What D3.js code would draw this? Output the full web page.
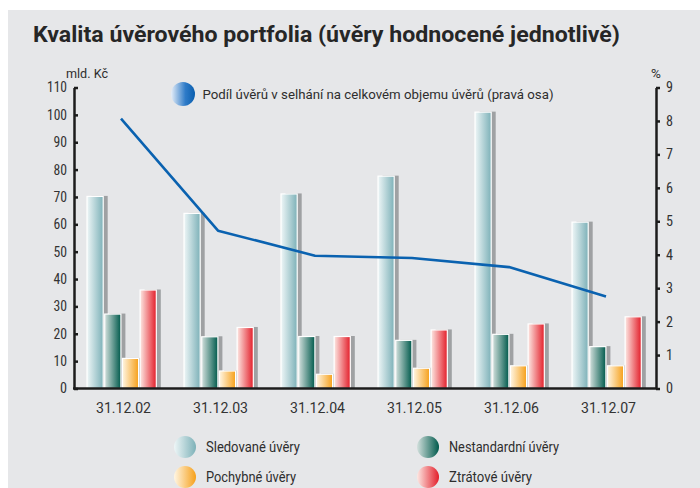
<!DOCTYPE html>
<html><head><meta charset="utf-8">
<script src="https://cdn.jsdelivr.net/npm/d3@7"></script>
<style>body{margin:0;background:#fff;}text{font-family:Roboto,"Open Sans",sans-serif;fill:#2e2e2e;}</style>
</head><body><svg id="c" width="700" height="488"></svg>
<script>
const categories = ["31.12.02","31.12.03","31.12.04","31.12.05","31.12.06","31.12.07"];
const seriesNames = ["Sledované úvěry","Nestandardní úvěry","Pochybné úvěry","Ztrátové úvěry"];
const sledovane   = [70.2, 64.0, 71.1, 77.6, 101.0, 60.8];
const nestandardni= [27.2, 18.9, 19.0, 17.6, 19.8, 15.3];
const pochybne    = [11.0, 6.4, 5.2, 7.4, 8.3, 8.3];
const ztratove    = [36.0, 22.3, 19.0, 21.4, 23.6, 26.2];
const podil       = [8.07, 4.72, 3.97, 3.90, 3.63, 2.75];
const leftTicks = [0,10,20,30,40,50,60,70,80,90,100,110];
const rightTicks = [0,1,2,3,4,5,6,7,8,9];
const title = "Kvalita úvěrového portfolia (úvěry hodnocené jednotlivě)";
const lineLabel = "Podíl úvěrů v selhání na celkovém objemu úvěrů (pravá osa)";

const values = [sledovane, nestandardni, pochybne, ztratove];
const grads = [["#eef6f7","#7db1b8"],["#d3e0dd","#005a4c"],["#fff6e4","#f6a01a"],["#fde8e3","#e31e2a"]];

const svg = d3.select("#c");
const defs = svg.append("defs");
grads.forEach((g,i)=>{
  const lg = defs.append("linearGradient").attr("id","g"+i).attr("x1","0").attr("x2","1").attr("y1","0").attr("y2","0");
  lg.append("stop").attr("offset","0").attr("stop-color",g[0]);
  lg.append("stop").attr("offset","1").attr("stop-color",g[1]);
});
const bl = defs.append("linearGradient").attr("id","gb").attr("x1","0").attr("x2","1");
bl.append("stop").attr("offset","0").attr("stop-color","#e6eef8");
bl.append("stop").attr("offset","0.6").attr("stop-color","#2e7bc8");
bl.append("stop").attr("offset","1").attr("stop-color","#0a5eae");

svg.append("rect").attr("x",8).attr("y",10).attr("width",692).attr("height",478).attr("fill","#e6e7e9");

svg.append("text").attr("x",33).attr("y",42).attr("font-size",22).attr("font-weight","bold")
  .attr("textLength",587).attr("lengthAdjust","spacingAndGlyphs").style("fill","#262626").text(title);

const L = 74, R = 656, T = 87.5, B = 388.5;
const x0 = d3.scaleBand().domain(categories).range([L,R]).paddingInner(0).paddingOuter(0);
const x1 = d3.scaleBand().domain(d3.range(4)).range([12.5, 12.5+4*17.7]).padding(0);
const yL = d3.scaleLinear().domain([0,110]).range([B,T]);
const yR = d3.scaleLinear().domain([0,9]).range([B,T]);

const rows = [];
categories.forEach((c,ci)=>values.forEach((v,si)=>rows.push({c,si,v:v[ci]})));

const gBars = svg.append("g");
gBars.selectAll("rect.sh").data(rows).join("rect").attr("class","sh")
  .attr("x",d=>x0(d.c)+x1(d.si)+5).attr("y",d=>yL(d.v)-0.5)
  .attr("width",x1.bandwidth()-1.5).attr("height",d=>B-yL(d.v)+0.5).attr("fill","#9fa1a3");
gBars.selectAll("rect.bar").data(rows).join("rect").attr("class","bar")
  .attr("x",d=>x0(d.c)+x1(d.si)+0.5).attr("y",d=>yL(d.v))
  .attr("width",x1.bandwidth()-1.5).attr("height",d=>B-yL(d.v))
  .attr("fill",d=>"url(#g"+d.si+")").attr("stroke","#fff").attr("stroke-width",1.2);

// line
const line = d3.line().x((d,i)=>x0(categories[i])+x0.bandwidth()/2-1.5).y(d=>yR(d));
svg.append("path").datum(podil).attr("d",line).attr("fill","none").attr("stroke","#0a62b0").attr("stroke-width",2.6).attr("stroke-linejoin","round");

// axes
const axL = svg.append("g").attr("transform",`translate(${L},0)`)
  .call(d3.axisLeft(yL).tickValues(leftTicks).tickSizeInner(-4).tickSizeOuter(0).tickPadding(7));
const axR = svg.append("g").attr("transform",`translate(${R},0)`)
  .call(d3.axisRight(yR).tickValues(rightTicks).tickSizeInner(4).tickSizeOuter(0).tickPadding(6));
[axL,axR].forEach(a=>{
  a.select(".domain").attr("stroke","#1c1c1c").attr("stroke-width",2.5);
  a.selectAll(".tick line").attr("stroke","#1c1c1c").attr("stroke-width",2.5);
  a.selectAll(".tick text").attr("font-size",14).style("font-family","Roboto,sans-serif").style("fill","#333").attr("font-stretch","condensed");
});
axL.selectAll(".tick text").attr("textLength",d=>d>=100?20:(d>=10?13.5:7)).attr("lengthAdjust","spacingAndGlyphs");
axR.selectAll(".tick text").attr("textLength",7).attr("lengthAdjust","spacingAndGlyphs");

const axB = svg.append("g").attr("transform",`translate(0,${B})`)
  .call(d3.axisBottom(x0).tickSize(0).tickPadding(14));
axB.select(".domain").attr("stroke","#1c1c1c").attr("stroke-width",2.5);
axB.selectAll(".tick text").attr("font-size",14.5).style("fill","#333").attr("dx",1)
  .attr("textLength",55).attr("lengthAdjust","spacingAndGlyphs");
axB.select(".domain").attr("d",`M${L-1},0H${R+1}`);

svg.append("text").attr("x",66).attr("y",78).attr("font-size",13.5).attr("textLength",42).attr("lengthAdjust","spacingAndGlyphs").text("mld. Kč");
svg.append("text").attr("x",651).attr("y",78).attr("font-size",13.5).text("%");

// line legend
svg.append("circle").attr("cx",183).attr("cy",94).attr("r",12).attr("fill","url(#gb)");
svg.append("text").attr("x",202.5).attr("y",98.5).attr("font-size",13.5).attr("textLength",351).attr("lengthAdjust","spacingAndGlyphs").text(lineLabel);

// bar legend
const legPos = [[185,447],[428,447],[185,477],[428,477]];
const legLen = [94,110,90,83];
seriesNames.forEach((n,i)=>{
  svg.append("circle").attr("cx",legPos[i][0]).attr("cy",legPos[i][1]).attr("r",11).attr("fill",`url(#g${i})`);
  svg.append("text").attr("x",legPos[i][0]+21).attr("y",legPos[i][1]+5).attr("font-size",14)
    .attr("textLength",legLen[i]).attr("lengthAdjust","spacingAndGlyphs").text(n);
});
</script></body></html>
